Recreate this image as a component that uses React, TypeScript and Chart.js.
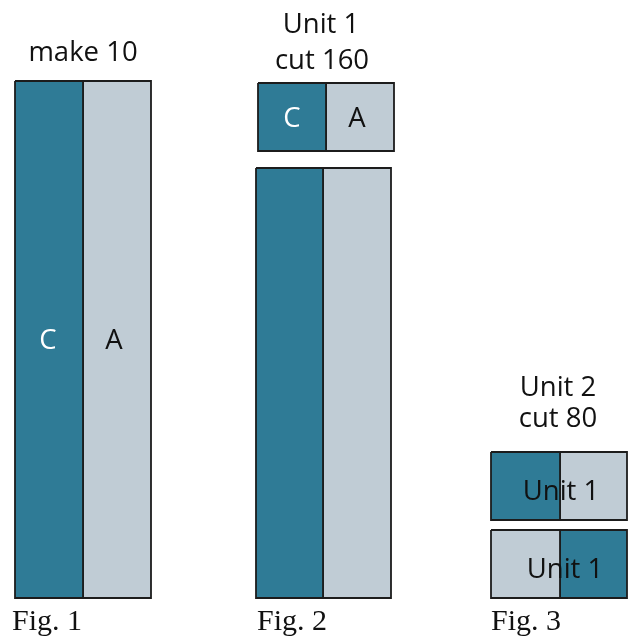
import React, { useEffect, useRef } from "react";
import { Chart, registerables } from "chart.js";

Chart.register(...registerables);

// Patches (in drawing units, 0..628 horizontally, 0..637 vertically, top-down)
const patchLeft = [15, 83, 258, 326, 256, 323, 491, 560, 491, 560];
const patchRight = [83, 151, 326, 394, 323, 391, 560, 627, 560, 627];
const patchTop = [81, 81, 83, 83, 168, 168, 452, 452, 530, 530];
const patchBottom = [598, 598, 151, 151, 598, 598, 520, 520, 598, 598];
const patchFabric = ["C", "A", "C", "A", "C", "A", "C", "A", "A", "C"];

const fabricColor: Record<string, string> = { C: "#2f7b96", A: "#c0ccd5" };

// Labels
const labelText = ["make 10", "C", "A", "Unit 1", "cut 160", "C", "A", "Unit 2", "cut 80", "Unit 1", "Unit 1", "Fig. 1", "Fig. 2", "Fig. 3"];
const labelX = [83, 48, 114, 321, 322, 292, 357, 558, 558, 561, 565, 12, 257, 491];
const labelY = [61, 349, 349, 33, 69, 127, 127, 396, 427, 500, 578, 630, 630, 630];
const labelKind = ["title", "white", "black", "title", "title", "white", "black", "title", "title", "black", "black", "fig", "fig", "fig"];

const W = 628;
const H = 637;

const labelPlugin = {
  id: "labels",
  afterDatasetsDraw(chart: any) {
    const ctx = chart.ctx;
    const xs = chart.scales.x;
    const ys = chart.scales.y;
    ctx.save();
    ctx.textBaseline = "alphabetic";
    labelText.forEach((t, i) => {
      const k = labelKind[i];
      const px = xs.getPixelForValue(labelX[i]);
      const py = ys.getPixelForValue(labelY[i]);
      if (k === "fig") {
        ctx.font = '30px "Liberation Serif"';
        ctx.textAlign = "left";
        ctx.fillStyle = "#111";
      } else {
        ctx.font = '27.5px "Open Sans"';
        ctx.textAlign = "center";
        ctx.fillStyle = k === "white" ? "#ffffff" : "#111";
      }
      ctx.fillText(t, px, py);
    });
    ctx.restore();
  },
};

export default function App() {
  const ref = useRef<HTMLCanvasElement>(null);
  useEffect(() => {
    if (!ref.current) return;
    const datasets = patchLeft.map((l, i) => ({
      type: "line" as const,
      data: [
        { x: l, y: patchTop[i] },
        { x: patchRight[i], y: patchTop[i] },
        { x: patchRight[i], y: patchBottom[i] },
        { x: l, y: patchBottom[i] },
        { x: l, y: patchTop[i] },
      ],
      borderColor: "#1c1c1c",
      borderWidth: 1.8,
      backgroundColor: fabricColor[patchFabric[i]],
      fill: "shape",
      pointRadius: 0,
      tension: 0,
    }));
    const chart = new Chart(ref.current, {
      type: "scatter",
      data: { datasets },
      options: {
        animation: false,
        responsive: false,
        events: [],
        layout: { padding: 0 },
        plugins: { legend: { display: false }, tooltip: { enabled: false } },
        scales: {
          x: { type: "linear", min: 0, max: W, display: false },
          y: { type: "linear", min: 0, max: H, reverse: true, display: false },
        },
      },
      plugins: [labelPlugin],
    });
    return () => chart.destroy();
  }, []);
  return (
    <div style={{ position: "fixed", left: 0, top: 0, width: W, height: H, background: "#fff" }}>
      <canvas ref={ref} width={W} height={H} style={{ width: W, height: H }} />
    </div>
  );
}
